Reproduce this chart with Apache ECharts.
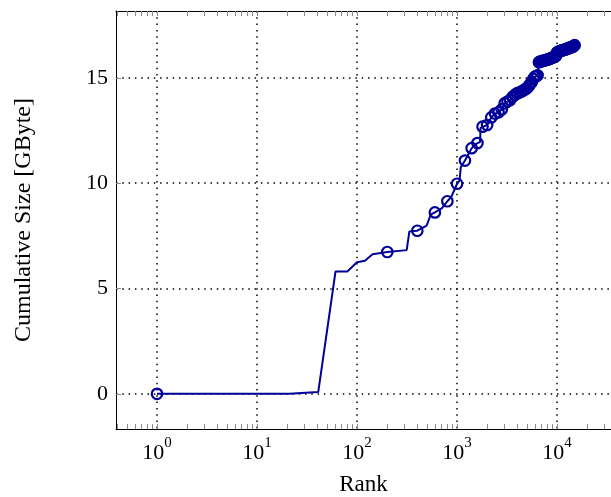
<!DOCTYPE html>
<html>
<head>
<meta charset="utf-8">
<script src="https://cdn.jsdelivr.net/npm/echarts@6/dist/echarts.min.js"></script>
<style>
  html, body { margin: 0; padding: 0; background: #fff; }
  #main { width: 611px; height: 497px; }
</style>
</head>
<body>
<div id="main"></div>
<script>
// line vertices (rank, cumulative size in GByte)
var lineRank = [1, 21, 41, 61, 80, 100, 120, 143, 201, 314, 334, 401, 497, 545, 601, 703, 801, 880, 1001, 1060, 1090, 1201,
  1401, 1601, 1700, 1720, 1801, 2001, 2201, 2401, 2601, 2801, 3001, 3201, 3401, 3601, 3801, 4001, 4201, 4401, 4601, 4801,
  5001, 5201, 5401, 5601, 5801, 6001, 6201, 6401, 6500, 6601, 6801, 7001, 7401, 7801, 8201, 8601, 9001, 9401, 9801, 9950,
  10001, 10601, 11201, 11801, 12401, 13001, 13601, 14201, 14801, 15001];
var lineSize = [0, 0, 0.09, 5.81, 5.81, 6.24, 6.32, 6.62, 6.73, 6.82, 7.71, 7.74, 7.98, 8.5, 8.61, 8.8, 9.14, 9.36, 9.97, 10.12, 10.75, 11.07,
  11.66, 11.9, 11.95, 12.62, 12.68, 12.76, 13.12, 13.3, 13.36, 13.5, 13.79, 13.87, 13.95, 14.1, 14.2, 14.27, 14.3, 14.35, 14.4, 14.45,
  14.5, 14.6, 14.7, 14.8, 14.95, 15.05, 15.08, 15.12, 15.14, 15.74, 15.77, 15.79, 15.82, 15.85, 15.88, 15.92, 15.96, 16.0, 16.05, 16.08,
  16.2, 16.26, 16.3, 16.33, 16.36, 16.4, 16.44, 16.47, 16.52, 16.55];

// circle marks (every 200th entry)
var markRank = [1, 201, 401, 601, 801, 1001, 1201, 1401, 1601, 1801, 2001, 2201, 2401, 2601, 2801, 3001, 3201, 3401, 3601, 3801,
  4001, 4201, 4401, 4601, 4801, 5001, 5201, 5401, 5601, 5801, 6001, 6201, 6401, 6601, 6801, 7001, 7201, 7401, 7601, 7801,
  8001, 8201, 8401, 8601, 8801, 9001, 9201, 9401, 9601, 9801, 10001, 10201, 10401, 10601, 10801, 11001, 11201, 11401, 11601, 11801,
  12001, 12201, 12401, 12601, 12801, 13001, 13201, 13401, 13601, 13801, 14001, 14201, 14401, 14601, 14801, 15001];
var markSize = [0, 6.73, 7.74, 8.61, 9.14, 9.97, 11.07, 11.66, 11.9, 12.68, 12.76, 13.12, 13.3, 13.36, 13.5, 13.79, 13.87, 13.95, 14.1, 14.2,
  14.27, 14.3, 14.35, 14.4, 14.45, 14.5, 14.6, 14.7, 14.8, 14.95, 15.05, 15.08, 15.12, 15.74, 15.77, 15.79, 15.8, 15.82, 15.83, 15.85,
  15.86, 15.88, 15.9, 15.92, 15.94, 15.96, 15.98, 16.0, 16.02, 16.05, 16.2, 16.22, 16.24, 16.26, 16.28, 16.29, 16.3, 16.31, 16.32, 16.33,
  16.34, 16.35, 16.36, 16.38, 16.39, 16.4, 16.41, 16.43, 16.44, 16.45, 16.46, 16.47, 16.48, 16.5, 16.52, 16.55];

var xMajor = [1, 10, 100, 1000, 10000];
var yMajor = [0, 5, 10, 15];

var font = "'Liberation Serif', 'DejaVu Serif', serif";
var blue = "#000099";
var tickGrey = "#8c8c8c";
var xMin = 0.389, xMax = 34674;
var yMin = -1.67, yMax = 18.17;

// major + minor log ticks inside the range
var xAllTicks = [];
for (var e = -1; e <= 4; e++) {
  for (var m = 1; m <= 9; m++) {
    var v = m * Math.pow(10, e);
    if (v > xMin && v < xMax) xAllTicks.push(v);
  }
}

var lineData = lineRank.map(function (r, i) { return [r, lineSize[i]]; });
var markData = markRank.map(function (r, i) { return [r, markSize[i]]; });

var chart = echarts.init(document.getElementById("main"));
var option = {
  animation: false,
  grid: { left: 116, top: 11, right: 0, bottom: 68, containLabel: false, outerBoundsMode: "none" },
  xAxis: [
    {
      type: "log",
      logBase: 10,
      min: xMin,
      max: xMax,
      position: "bottom",
      name: "Rank",
      nameLocation: "middle",
      nameGap: 44,
      nameTextStyle: { fontFamily: font, fontSize: 23, color: "#000" },
      axisLine: { show: true, onZero: false, lineStyle: { color: "#000", width: 1 } },
      axisTick: { show: true, inside: true, length: 5, customValues: xAllTicks, lineStyle: { color: tickGrey, width: 1 } },
      axisLabel: {
        show: true,
        margin: 7,
        customValues: xMajor,
        formatter: function (v) {
          return "{b|10}{s|" + Math.round(Math.log10(v)) + "}";
        },
        rich: {
          b: { fontFamily: font, fontSize: 22, color: "#000", lineHeight: 28, verticalAlign: "bottom" },
          s: { fontFamily: font, fontSize: 15, color: "#000", lineHeight: 16, verticalAlign: "top" }
        }
      },
      splitLine: { show: false }
    },
    {
      type: "log",
      logBase: 10,
      min: xMin,
      max: xMax,
      position: "top",
      axisLine: { show: true, onZero: false, lineStyle: { color: "#000", width: 1 } },
      axisTick: { show: true, inside: true, length: 5, customValues: xAllTicks, lineStyle: { color: tickGrey, width: 1 } },
      axisLabel: { show: false },
      splitLine: { show: false }
    },
    {
      // dotted grid lines at the decades
      type: "log",
      logBase: 10,
      min: xMin,
      max: xMax,
      position: "bottom",
      axisLine: { show: false, onZero: false },
      axisTick: { show: false, customValues: xMajor },
      axisLabel: { show: false },
      splitLine: { show: true, lineStyle: { color: "#000", width: 1.5, type: [1.5, 4.8] } }
    }
  ],
  yAxis: [
    {
      type: "value",
      min: yMin,
      max: yMax,
      name: "Cumulative Size [GByte]",
      nameLocation: "middle",
      nameGap: 80,
      nameRotate: 90,
      nameTextStyle: { fontFamily: font, fontSize: 24, color: "#000" },
      axisLine: { show: true, onZero: false, lineStyle: { color: "#000", width: 1 } },
      axisTick: { show: true, inside: true, length: 5, customValues: yMajor, lineStyle: { color: tickGrey, width: 1 } },
      axisLabel: { show: true, margin: 8, customValues: yMajor, fontFamily: font, fontSize: 22, color: "#000" },
      splitLine: { show: true, lineStyle: { color: "#000", width: 1.5, type: [1.5, 4.8] } }
    }
  ],
  series: [
    {
      name: "size",
      type: "line",
      xAxisIndex: 0,
      yAxisIndex: 0,
      data: lineData,
      showSymbol: false,
      lineStyle: { color: blue, width: 2 },
      z: 3
    },
    {
      name: "marks",
      type: "scatter",
      xAxisIndex: 0,
      yAxisIndex: 0,
      data: markData,
      symbol: "circle",
      symbolSize: 10.5,
      itemStyle: { color: "rgba(0,0,0,0)", borderColor: blue, borderWidth: 2.2, opacity: 1 },
      z: 4
    }
  ]
};
chart.setOption(option);
</script>
</body>
</html>
